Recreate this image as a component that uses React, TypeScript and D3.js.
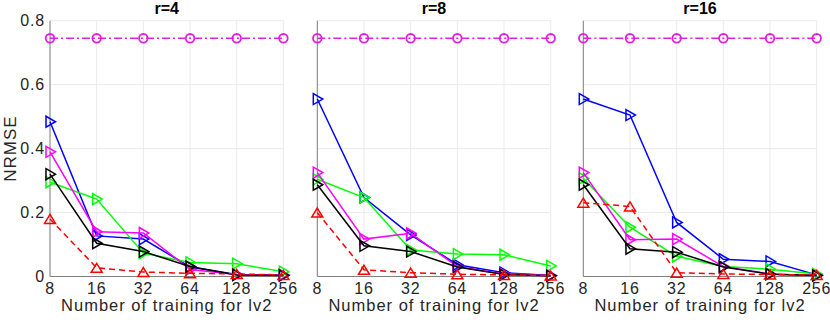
import React, { useEffect, useRef } from "react";
import * as d3 from "d3";

// x values (training count for lv2)
const trainSizes = [8, 16, 32, 64, 128, 256];
const panelTitles = ["r=4", "r=8", "r=16"];
const yTicks = [0, 0.2, 0.4, 0.6, 0.8];

// flat reference line (circles, dash-dot) - same in every panel
const baseline = [0.745, 0.745, 0.745, 0.745, 0.745, 0.745];

// r=4
const blueR4 = [0.484, 0.127, 0.117, 0.03, 0.006, 0.005];
const greenR4 = [0.295, 0.242, 0.073, 0.044, 0.04, 0.015];
const magentaR4 = [0.39, 0.14, 0.136, 0.022, 0.006, 0.005];
const blackR4 = [0.32, 0.104, 0.078, 0.031, 0.005, 0.003];
const redR4 = [0.18, 0.027, 0.014, 0.01, 0.008, 0.005];

// r=8
const blueR8 = [0.555, 0.247, 0.13, 0.037, 0.012, 0.003];
const greenR8 = [0.304, 0.247, 0.083, 0.07, 0.068, 0.033];
const magentaR8 = [0.325, 0.117, 0.135, 0.031, 0.008, 0.003];
const blackR8 = [0.287, 0.096, 0.078, 0.03, 0.006, 0.002];
const redR8 = [0.2, 0.021, 0.012, 0.007, 0.005, 0.003];

// r=16
const blueR16 = [0.555, 0.505, 0.169, 0.054, 0.047, 0.005];
const greenR16 = [0.307, 0.154, 0.063, 0.031, 0.023, 0.008];
const magentaR16 = [0.325, 0.115, 0.117, 0.031, 0.008, 0.003];
const blackR16 = [0.287, 0.087, 0.076, 0.03, 0.007, 0.003];
const redR16 = [0.231, 0.219, 0.012, 0.008, 0.006, 0.005];

const panelData = [
  [blueR4, greenR4, magentaR4, blackR4, redR4],
  [blueR8, greenR8, magentaR8, blackR8, redR8],
  [blueR16, greenR16, magentaR16, blackR16, redR16],
];

const seriesStyle = [
  { color: "#0000ff", dash: null, marker: "right" },
  { color: "#00ff00", dash: null, marker: "right" },
  { color: "#ff00ff", dash: null, marker: "right" },
  { color: "#000000", dash: null, marker: "right" },
  { color: "#ff0000", dash: "6,4", marker: "up" },
];

const width = 830;
const height = 325;
const panelLeft = [50, 317.3, 583.3];
const panelWidth = 233.4;
const marginTop = 20.7;
const plotBottom = 276.5;
const font = "'Liberation Sans', Arial, sans-serif";

const App = () => {
  const svgRef = useRef(null);

  useEffect(() => {
    const svg = d3.select(svgRef.current);
    svg.selectAll("*").remove();

    const y = d3.scaleLinear().domain([0, 0.8]).range([plotBottom, marginTop]);

    panelTitles.forEach((title, p) => {
      const x = d3
        .scaleLog()
        .base(2)
        .domain([8, 256])
        .range([panelLeft[p], panelLeft[p] + panelWidth]);
      const g = svg.append("g");

      // grid
      g.selectAll(".gx")
        .data(trainSizes)
        .enter()
        .append("line")
        .attr("x1", (d) => x(d))
        .attr("x2", (d) => x(d))
        .attr("y1", marginTop)
        .attr("y2", plotBottom)
        .attr("stroke", "#ebebeb")
        .attr("stroke-width", 1);
      g.selectAll(".gy")
        .data(yTicks)
        .enter()
        .append("line")
        .attr("x1", x(8))
        .attr("x2", x(256))
        .attr("y1", (d) => y(d))
        .attr("y2", (d) => y(d))
        .attr("stroke", "#ebebeb")
        .attr("stroke-width", 1);

      // axes lines
      g.append("line")
        .attr("x1", x(8))
        .attr("x2", x(8))
        .attr("y1", marginTop)
        .attr("y2", plotBottom)
        .attr("stroke", "#808080")
        .attr("stroke-width", 1);
      g.append("line")
        .attr("x1", x(8))
        .attr("x2", x(256))
        .attr("y1", plotBottom)
        .attr("y2", plotBottom)
        .attr("stroke", "#808080")
        .attr("stroke-width", 1);

      // y tick labels only on first panel
      if (p === 0) {
        g.selectAll(".yt")
          .data(yTicks)
          .enter()
          .append("text")
          .attr("x", x(8) - 5)
          .attr("y", (d) => y(d) + 5.5)
          .attr("text-anchor", "end")
          .style("font-family", font)
          .style("font-size", "16px")
          .style("letter-spacing", "0.8px")
          .attr("fill", "#262626")
          .text((d) => (d === 0 ? "0" : d.toFixed(1)));
      }

      // x tick labels
      g.selectAll(".xt")
        .data(trainSizes)
        .enter()
        .append("text")
        .attr("x", (d) => x(d))
        .attr("y", 294)
        .attr("text-anchor", "middle")
        .style("font-family", font)
        .style("font-size", "16px")
        .style("letter-spacing", "0.8px")
        .attr("fill", "#262626")
        .text((d) => d);

      // x label
      g.append("text")
        .attr("x", panelLeft[p] + panelWidth / 2)
        .attr("y", 310.5)
        .attr("text-anchor", "middle")
        .style("font-family", font)
        .style("font-size", "16.5px")
        .style("letter-spacing", "1px")
        .attr("fill", "#262626")
        .text("Number of training for lv2");

      // title
      g.append("text")
        .attr("x", panelLeft[p] + panelWidth / 2)
        .attr("y", 13.5)
        .attr("text-anchor", "middle")
        .style("font-family", font)
        .style("font-size", "16px")
        .style("font-weight", "bold")
        .attr("fill", "#000")
        .text(title);

      const line = d3
        .line()
        .x((d, i) => x(trainSizes[i]))
        .y((d) => y(d));

      // dash-dot circle reference line
      g.append("path")
        .datum(baseline)
        .attr("fill", "none")
        .attr("stroke", "#e020e0")
        .attr("stroke-width", 1.6)
        .attr("stroke-dasharray", "8,3,2,3")
        .attr("d", line);
      g.selectAll(".circ")
        .data(baseline)
        .enter()
        .append("circle")
        .attr("cx", (d, i) => x(trainSizes[i]))
        .attr("cy", (d) => y(d))
        .attr("r", 4.3)
        .attr("fill", "none")
        .attr("stroke", "#e020e0")
        .attr("stroke-width", 1.8);

      panelData[p].forEach((vals, s) => {
        const st = seriesStyle[s];
        const path = g
          .append("path")
          .datum(vals)
          .attr("fill", "none")
          .attr("stroke", st.color)
          .attr("stroke-width", 1.5)
          .attr("d", line);
        if (st.dash) path.attr("stroke-dasharray", st.dash);

        const markerPath =
          st.marker === "right"
            ? "M-4,-5.5L5.5,0L-4,5.5Z"
            : "M0,-4.5L5.5,4.5L-5.5,4.5Z";
        g.selectAll(".m" + s)
          .data(vals)
          .enter()
          .append("path")
          .attr(
            "transform",
            (d, i) => `translate(${x(trainSizes[i])},${y(d)})`,
          )
          .attr("d", markerPath)
          .attr("fill", "none")
          .attr("stroke", st.color)
          .attr("stroke-width", 1.5);
      });
    });

    // y label
    svg
      .append("text")
      .attr("transform", `translate(16,${(marginTop + plotBottom) / 2}) rotate(-90)`)
      .attr("text-anchor", "middle")
      .style("font-family", font)
      .style("font-size", "17px")
      .style("letter-spacing", "1px")
      .attr("fill", "#262626")
      .text("NRMSE");
  }, []);

  return (
    <svg
      ref={svgRef}
      width={width}
      height={height}
      style={{ position: "absolute", left: 0, top: 0, background: "#fff" }}
    ></svg>
  );
};

export default App;
